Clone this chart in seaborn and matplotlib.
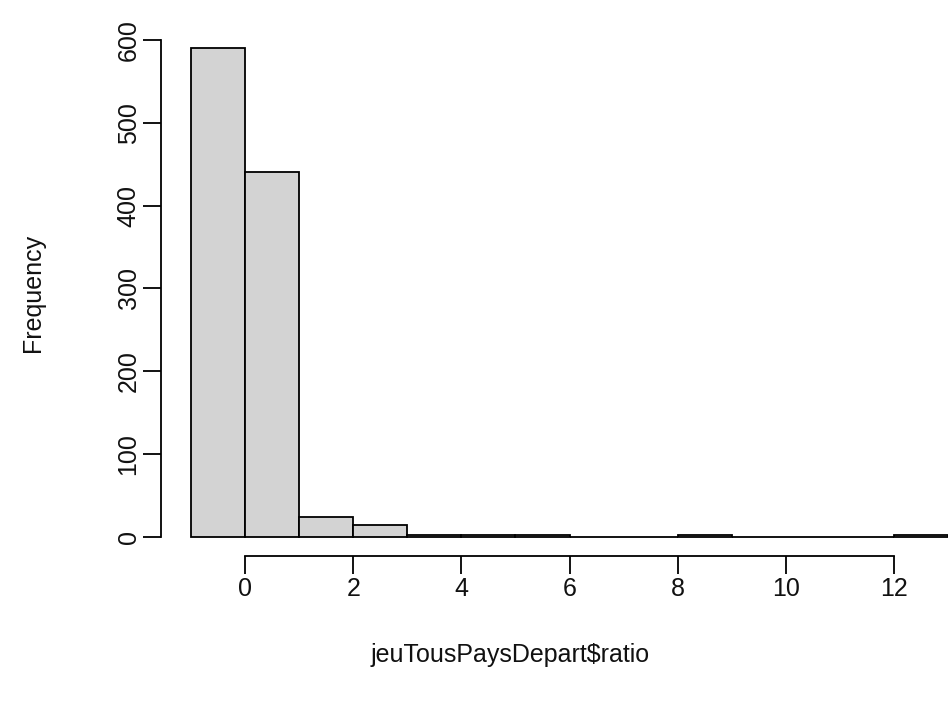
import numpy as np
import pandas as pd
import matplotlib
matplotlib.use("Agg")
import matplotlib.pyplot as plt
import seaborn as sns

# Data (bins of width 1)
bin_edges = [-1, 0, 1, 2, 3, 4, 5, 6, 7, 8, 9, 10, 11, 12, 13]
counts = [590, 440, 24, 14, 2, 2, 2, 0, 0, 2, 0, 0, 0, 2]
x_ticks = [0, 2, 4, 6, 8, 10, 12]
y_ticks = [0, 100, 200, 300, 400, 500, 600]
x_label = "jeuTousPaysDepart$ratio"
y_label = "Frequency"

sns.set_style("white")
plt.rcParams["font.family"] = ["Liberation Sans", "DejaVu Sans"]

W, H = 948, 711
fig = plt.figure(figsize=(W / 100, H / 100), dpi=100)
fig.patch.set_facecolor("white")

left_px, right_px = 160.7, 978.4
bottom_px, top_px = 556.2, 28.8
ax_w = right_px - left_px
ax_h = bottom_px - top_px
ax = fig.add_axes([left_px / W, (H - bottom_px) / H, ax_w / W, ax_h / H])

centers = [(a + b) / 2 for a, b in zip(bin_edges[:-1], bin_edges[1:])]
df = pd.DataFrame({"ratio": centers, "count": counts})
sns.histplot(data=df, x="ratio", weights="count", bins=bin_edges,
             color="#D3D3D3", edgecolor="black", linewidth=1.3,
             alpha=1, ax=ax)

ax.set_xlim(-1.56, 13.56)
ax.set_ylim(-23.6, 613.6)
ax.set_facecolor("white")

for s in ["top", "right"]:
    ax.spines[s].set_visible(False)
ax.spines["left"].set_bounds(0, 600)
ax.spines["bottom"].set_bounds(0, 12)
for s in ["left", "bottom"]:
    ax.spines[s].set_linewidth(1.3)
    ax.spines[s].set_color("black")

fs = 18
ax.set_xticks(x_ticks)
ax.set_yticks(y_ticks)
ax.set_xticklabels([str(v) for v in x_ticks], fontsize=fs, color="#111111")
ax.set_yticklabels([str(v) for v in y_ticks], fontsize=fs, color="#111111",
                   rotation=90, va="center")
ax.tick_params(axis="both", direction="out", length=13, width=1.3,
               color="black", bottom=True, left=True, top=False, right=False)
ax.tick_params(axis="x", pad=2)
ax.tick_params(axis="y", pad=1.5)

ax.set_xlabel(x_label, fontsize=fs, color="#111111", va="center")
ax.set_ylabel(y_label, fontsize=fs, color="#111111", va="center")
ax.xaxis.set_label_coords((510 - left_px) / ax_w, (H - 655 - (H - bottom_px)) / ax_h)
ax.yaxis.set_label_coords((33 - left_px) / ax_w, 0.5)
ax.grid(False)

fig.savefig("out.png", dpi=100, facecolor="white")
